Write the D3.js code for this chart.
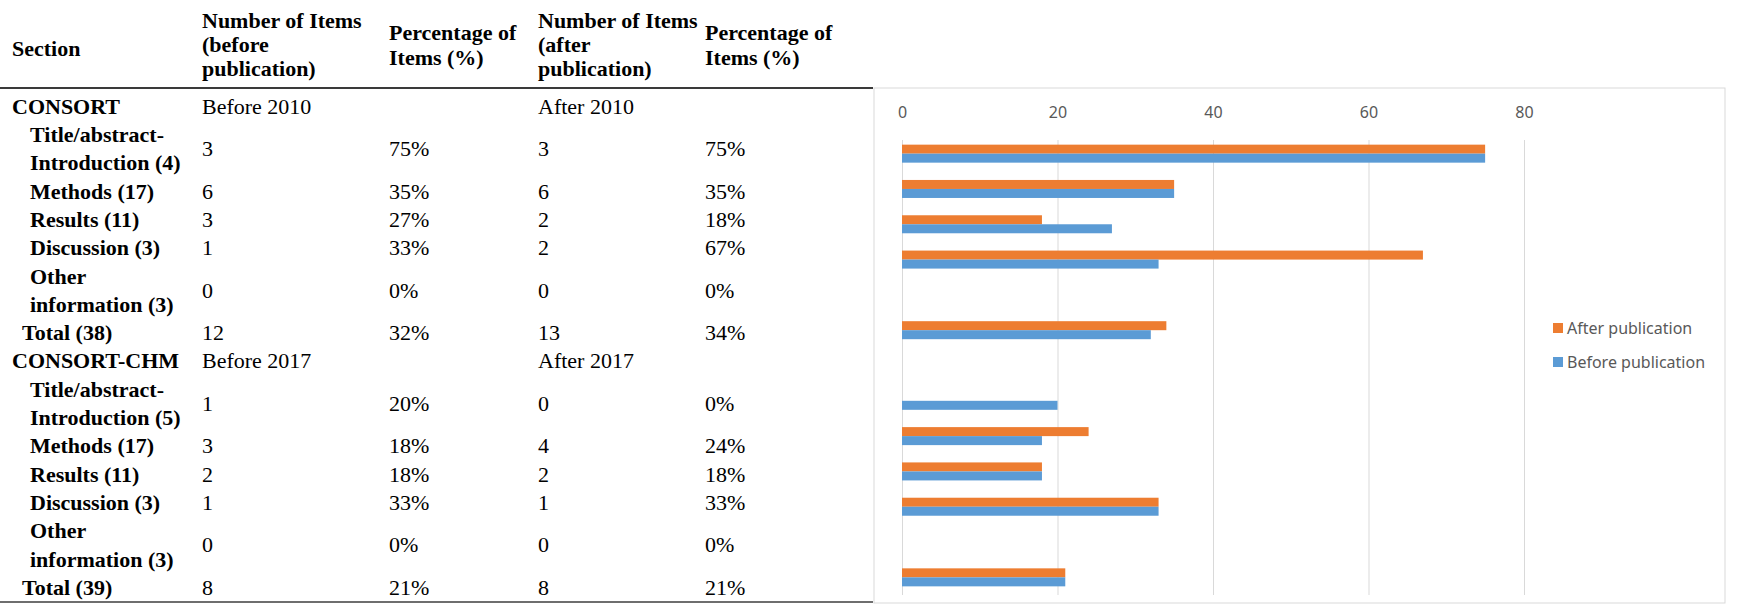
<!DOCTYPE html>
<html>
<head>
<meta charset="utf-8">
<script src="https://cdn.jsdelivr.net/npm/d3@7"></script>
<style>
  body { margin: 0; background: #fff; }
  svg { display: block; }
</style>
</head>
<body>
<div id="chart"></div>
<script>
const width = 1738, height = 612;

// table rows (left side)
const rowLabels = [
  ["CONSORT"], ["Title/abstract-", "Introduction (4)"], ["Methods (17)"], ["Results (11)"],
  ["Discussion (3)"], ["Other", "information (3)"], ["Total (38)"],
  ["CONSORT-CHM"], ["Title/abstract-", "Introduction (5)"], ["Methods (17)"], ["Results (11)"],
  ["Discussion (3)"], ["Other", "information (3)"], ["Total (39)"]
];
const rowKinds = ["group", "item", "item", "item", "item", "item", "total",
                  "group", "item", "item", "item", "item", "item", "total"];
const beforeCount = ["Before 2010", "3", "6", "3", "1", "0", "12", "Before 2017", "1", "3", "2", "1", "0", "8"];
const beforePct   = ["", "75%", "35%", "27%", "33%", "0%", "32%", "", "20%", "18%", "18%", "33%", "0%", "21%"];
const afterCount  = ["After 2010", "3", "6", "2", "2", "0", "13", "After 2017", "0", "4", "2", "1", "0", "8"];
const afterPct    = ["", "75%", "35%", "18%", "67%", "0%", "34%", "", "0%", "24%", "18%", "33%", "0%", "21%"];

// chart (right side) - one blank category between the two blocks
const categories = ["Title/abstract-Introduction (4)", "Methods (17)", "Results (11)", "Discussion (3)",
  "Other information (3)", "Total (38)", " ",
  "Title/abstract-Introduction (5)", "Methods (17) ", "Results (11) ", "Discussion (3) ",
  "Other information (3) ", "Total (39)"];
const beforeValues = [75, 35, 27, 33, 0, 32, null, 20, 18, 18, 33, 0, 21];
const afterValues  = [75, 35, 18, 67, 0, 34, null, 0, 24, 18, 33, 0, 21];
const seriesNames = ["After publication", "Before publication"];
const xTicks = [0, 20, 40, 60, 80];

const colors = { "After publication": "#ED7D31", "Before publication": "#5B9BD5" };

const svg = d3.select("#chart").append("svg")
  .attr("width", width).attr("height", height)
  .attr("viewBox", [0, 0, width, height]);

// ---------- table ----------
const serif = "'Liberation Serif', 'Times New Roman', serif";
const table = svg.append("g")
  .attr("font-family", serif)
  .attr("font-size", 22)
  .attr("fill", "#000");

const colX = { section: 12, c2: 202, c3: 389, c4: 538, c5: 705 };

// header
const head = table.append("g").attr("font-weight", "bold");
function headCell(x, lines, ys) {
  lines.forEach((t, i) => head.append("text").attr("x", x).attr("y", ys[i]).attr("dy", "0.35em").text(t));
}
headCell(colX.section, ["Section"], [48]);
headCell(colX.c2, ["Number of Items", "(before", "publication)"], [20, 44, 68]);
headCell(colX.c3, ["Percentage of", "Items (%)"], [32, 57]);
headCell(colX.c4, ["Number of Items", "(after", "publication)"], [20, 44, 68]);
headCell(colX.c5, ["Percentage of", "Items (%)"], [32, 57]);

table.append("line")
  .attr("x1", 0).attr("x2", 873).attr("y1", 88).attr("y2", 88)
  .attr("stroke", "#3a3a3a").attr("stroke-width", 2);
table.append("line")
  .attr("x1", 0).attr("x2", 873).attr("y1", 602).attr("y2", 602)
  .attr("stroke", "#6e6e6e").attr("stroke-width", 2);

// body lines
const lineY = i => 106 + i * 28.3;
const indent = { group: 12, item: 30, total: 22 };
let li = 0;
rowLabels.forEach((lab, r) => {
  const mid = lineY(li + (lab.length - 1) / 2);
  lab.forEach((t, k) => {
    table.append("text")
      .attr("x", indent[rowKinds[r]]).attr("y", lineY(li + k)).attr("dy", "0.35em")
      .attr("font-weight", "bold")
      .text(t);
  });
  [[colX.c2, beforeCount[r]], [colX.c3, beforePct[r]], [colX.c4, afterCount[r]], [colX.c5, afterPct[r]]]
    .forEach(([x, t]) => {
      if (t) table.append("text").attr("x", x).attr("y", mid).attr("dy", "0.35em").text(t);
    });
  li += lab.length;
});

// ---------- bar chart ----------
const chartBox = { x0: 874, x1: 1725, y0: 88, y1: 603 };
svg.append("rect")
  .attr("x", chartBox.x0).attr("y", chartBox.y0)
  .attr("width", chartBox.x1 - chartBox.x0).attr("height", chartBox.y1 - chartBox.y0)
  .attr("fill", "none").attr("stroke", "#d9d9d9").attr("stroke-width", 1);

const x = d3.scaleLinear().domain([0, 80]).range([902, 1524]);
const y = d3.scaleBand().domain(categories).range([136, 595]).paddingInner(0.49).paddingOuter(0.245);
const ySub = d3.scaleBand().domain(seriesNames).range([0, y.bandwidth()]);

// gridlines + top labels
svg.append("g")
  .attr("transform", `translate(0,${y.range()[0] + 4})`)
  .call(d3.axisBottom(x).tickValues(xTicks).tickSize(595 - 140).tickFormat(""))
  .call(g => g.select(".domain").remove())
  .call(g => g.selectAll(".tick line").attr("stroke", "#d9d9d9"));

svg.append("g")
  .attr("transform", "translate(0,112)")
  .call(d3.axisTop(x).tickValues(xTicks).tickSize(0).tickPadding(0))
  .call(g => g.select(".domain").remove())
  .call(g => g.selectAll("text")
    .attr("dy", "0.35em")
    .attr("font-family", "'Noto Sans', sans-serif")
    .attr("font-size", 16)
    .attr("fill", "#595959"));

const barData = [];
categories.forEach((c, i) => {
  if (afterValues[i] != null) barData.push({ cat: c, series: "After publication", value: afterValues[i] });
  if (beforeValues[i] != null) barData.push({ cat: c, series: "Before publication", value: beforeValues[i] });
});

svg.append("g")
  .selectAll("rect")
  .data(barData.filter(d => d.value > 0))
  .join("rect")
  .attr("x", x(0))
  .attr("y", d => y(d.cat) + ySub(d.series))
  .attr("width", d => x(d.value) - x(0))
  .attr("height", ySub.bandwidth())
  .attr("fill", d => colors[d.series]);

// legend
const legend = svg.append("g")
  .attr("font-family", "'Noto Sans', sans-serif")
  .attr("font-size", 16)
  .attr("fill", "#595959");
seriesNames.forEach((s, i) => {
  const cy = 328 + i * 34;
  legend.append("rect").attr("x", 1553).attr("y", cy - 5).attr("width", 10).attr("height", 10).attr("fill", colors[s]);
  legend.append("text").attr("x", 1567).attr("y", cy).attr("dy", "0.35em").text(s);
});
</script>
</body>
</html>
